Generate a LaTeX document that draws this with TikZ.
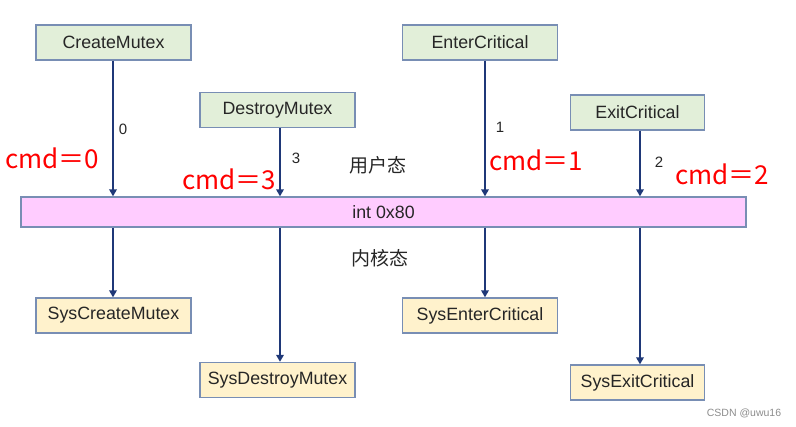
\documentclass[tikz,border=0pt]{standalone}
\usepackage{fontspec}
\setmainfont{Liberation Sans}
\newfontfamily\cjk{Noto Sans CJK SC}
\usepackage{tikz}
\usetikzlibrary{arrows.meta}
\definecolor{callfill}{RGB}{226,239,217}
\definecolor{sysfill}{RGB}{255,242,204}
\definecolor{gatefill}{RGB}{255,204,255}
\definecolor{boxline}{RGB}{120,142,180}
\definecolor{callline}{RGB}{31,56,120}
\definecolor{labeltext}{RGB}{38,38,38}

\begin{document}
\begin{tikzpicture}[x=1pt, y=-1pt,
                box/.style={draw=boxline, line width=1.3pt, minimum height=35pt, inner sep=0, text=labeltext, font=\fontsize{17.8}{20}\selectfont},
                api/.style={box, fill=callfill},
                sys/.style={box, fill=sysfill},
                call/.style={draw=callline, line width=2.3pt, -{Triangle[length=7pt, width=7.5pt]}},
                cmd/.style={text=red, font=\cjk\fontsize{26}{28}\selectfont},
                num/.style={text=labeltext, font=\fontsize{15}{17}\selectfont},
                mode/.style={text=labeltext, font=\cjk\fontsize{19}{21}\selectfont}]
                \useasboundingbox (0,0) rectangle (796,427);

                \node (create) [api, minimum width=155pt] at (113.5,42.5) {CreateMutex};
                \node (destroy) [api, minimum width=155pt] at (277.5,110) {DestroyMutex};
                \node (enter) [api, minimum width=155pt] at (480,42.5) {EnterCritical};
                \node (exit) [api, minimum width=134pt] at (637.5,112.5) {ExitCritical};

                \node (gate) [box, fill=gatefill, minimum width=725pt, minimum height=30pt] at (383.5,212) {int 0x80};

                \node (syscreate) [sys, minimum width=155pt] at (113.5,315.5) {SysCreateMutex};
                \node (sysdestroy) [sys, minimum width=155pt] at (277.5,380) {SysDestroyMutex};
                \node (sysenter) [sys, minimum width=155pt] at (480,315.5) {SysEnterCritical};
                \node (sysexit) [sys, minimum width=134pt] at (637.5,382.5) {SysExitCritical};

                \coordinate (lineC) at (113,0);
                \coordinate (lineD) at (280,0);
                \coordinate (lineE) at (485,0);
                \coordinate (lineX) at (640,0);

                \draw [call] (create.south -| lineC) -- (gate.north -| lineC);
                \draw [call] (destroy.south -| lineD) -- (gate.north -| lineD);
                \draw [call] (enter.south -| lineE) -- (gate.north -| lineE);
                \draw [call] (exit.south -| lineX) -- (gate.north -| lineX);

                \draw [call] (gate.south -| lineC) -- (syscreate.north -| lineC);
                \draw [call] (gate.south -| lineD) -- (sysdestroy.north -| lineD);
                \draw [call] (gate.south -| lineE) -- (sysenter.north -| lineE);
                \draw [call] (gate.south -| lineX) -- (sysexit.north -| lineX);

                \node (n0) [num] at (123,129) {0};
                \node (n3) [num] at (296,158) {3};
                \node (n1) [num] at (500,127) {1};
                \node (n2) [num] at (659,162) {2};

                \node (cmd0) [cmd] at (52,158) {cmd＝0};
                \node (cmd3) [cmd] at (229,179) {cmd＝3};
                \node (cmd1) [cmd] at (536,160) {cmd＝1};
                \node (cmd2) [cmd] at (722,174) {cmd＝2};

                \node (user) [mode] at (378,165) {用户态};
                \node (kernel) [mode] at (380,258) {内核态};

                \node (mark) [text=black!45, font=\fontsize{10.5}{12}\selectfont] at (744,413) {CSDN @uwu16};
            \end{tikzpicture}
\end{document}
